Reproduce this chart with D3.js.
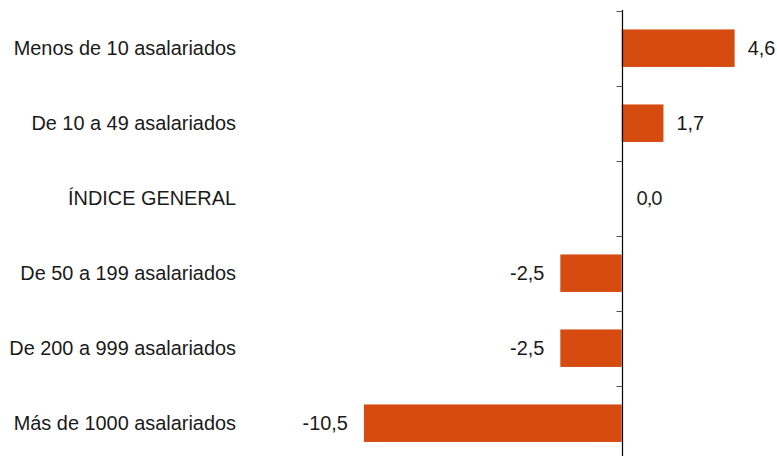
<!DOCTYPE html>
<html><head><meta charset="utf-8">
<script src="https://cdn.jsdelivr.net/npm/d3@7"></script>
<style>body{margin:0;background:#fff}svg{display:block}</style>
</head><body>
<svg id="c" width="777" height="456"></svg>
<script>
const categories = ["Menos de 10 asalariados","De 10 a 49 asalariados","ÍNDICE GENERAL","De 50 a 199 asalariados","De 200 a 999 asalariados","Más de 1000 asalariados"];
const values = [4.6, 1.7, 0.0, -2.5, -2.5, -10.5];
const valueLabels = ["4,6","1,7","0,0","-2,5","-2,5","-10,5"];

const svg = d3.select("#c");
const font = "'Liberation Sans', Arial, sans-serif";
const x0 = 621.7, k = 24.55;
const x = d3.scaleLinear().domain([-10.5, 4.6]).range([x0 - 10.5*k, x0 + 4.6*k]);
const y = d3.scaleBand().domain(categories).range([10.7, 460.7]).paddingInner(0.5).paddingOuter(0.25);
const color = "#d64b0f";

svg.selectAll("rect.bar").data(values).join("rect")
  .attr("class","bar")
  .attr("x", d => x(Math.min(0,d)))
  .attr("width", d => Math.abs(x(d)-x(0)))
  .attr("y", (d,i) => y(categories[i]))
  .attr("height", y.bandwidth())
  .attr("fill", color);

const x0px = Math.round(x(0)) + 0.5;
svg.append("line").attr("x1", x0px).attr("x2", x0px).attr("y1", 10).attr("y2", 456)
  .attr("stroke","#000").attr("stroke-width",1.2);
const step = y.step();
const bounds = d3.range(categories.length).map(i => y(categories[i]) - (step - y.bandwidth())/2);
svg.selectAll("line.tick").data(bounds).join("line").attr("class","tick")
  .attr("x1", x0px-6).attr("x2", x0px).attr("y1", d => Math.round(d)+0.5).attr("y2", d => Math.round(d)+0.5)
  .attr("stroke","#555").attr("stroke-width",1);

svg.selectAll("text.cat").data(categories).join("text").attr("class","cat")
  .attr("x", 236).attr("y", d => y(d) + y.bandwidth()/2).attr("dy","0.36em")
  .attr("text-anchor","end").attr("font-family",font).attr("font-size",19.9).attr("fill","#1a1a1a")
  .text(d => d);

svg.selectAll("text.val").data(values).join("text").attr("class","val")
  .attr("x", d => d > 0 ? x(d) + 13 : (d === 0 ? x(d) + 15 : x(d) - 16))
  .attr("y", (d,i) => y(categories[i]) + y.bandwidth()/2).attr("dy","0.36em")
  .attr("text-anchor", d => d >= 0 ? "start" : "end")
  .attr("font-family", d => d === 0 ? "Lato, 'Open Sans', sans-serif" : font)
  .attr("font-size", d => d === 0 ? 18.5 : 19.9).attr("fill","#1a1a1a")
  .text((d,i) => valueLabels[i]);
</script>
</body></html>
